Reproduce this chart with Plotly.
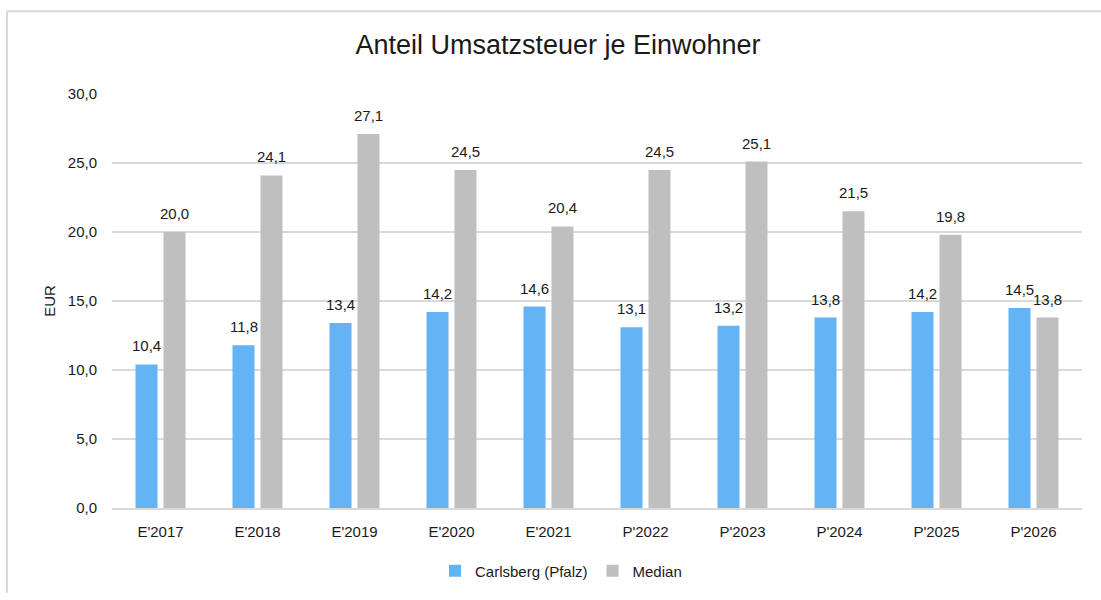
import plotly.graph_objects as go

categories = ["E'2017", "E'2018", "E'2019", "E'2020", "E'2021",
              "P'2022", "P'2023", "P'2024", "P'2025", "P'2026"]
carlsberg = [10.4, 11.8, 13.4, 14.2, 14.6, 13.1, 13.2, 13.8, 14.2, 14.5]
median = [20.0, 24.1, 27.1, 24.5, 20.4, 24.5, 25.1, 21.5, 19.8, 13.8]

FONT = "Liberation Sans, Arial, sans-serif"
TXT = "#1a1a1a"
W, H = 1101, 600
ML, MT = 112, 94
MR = W - 1082
MB = H - 514
pw, ph = W - ML - MR, H - MT - MB


def px_x(x):
    # page pixel -> paper fraction
    return (x - ML) / pw


def px_y(y):
    return (H - MB - y) / ph


fig = go.Figure()
fig.add_trace(go.Bar(
    x=categories, y=carlsberg, name="Carlsberg (Pfalz)",
    marker=dict(color="#63B3F5", line=dict(width=0)),
))
fig.add_trace(go.Bar(
    x=categories, y=median, name="Median",
    marker=dict(color="#BFBFBF", line=dict(width=0)),
))

# data labels sit a little higher above the bars than plotly's own bar text
annotations = []
for values, shift in ((carlsberg, -14), (median, 14)):
    for cat, v in zip(categories, values):
        annotations.append(dict(
            x=cat, y=v, xref="x", yref="y", text=f"{v:.1f}".replace(".", ","),
            showarrow=False, xshift=shift, yshift=8, yanchor="bottom",
            font=dict(size=15, color=TXT, family=FONT),
        ))

fig.update_layout(
    width=W, height=H,
    margin=dict(l=ML, r=MR, t=MT, b=MB),
    paper_bgcolor="white", plot_bgcolor="white",
    separators=",.",
    font=dict(family=FONT, size=15, color=TXT),
    title=dict(text="Anteil Umsatzsteuer je Einwohner", x=px_x(558), xanchor="center",
               xref="paper", y=1 - 45 / H, yanchor="middle",
               font=dict(size=27, color=TXT, family=FONT)),
    barmode="group", bargap=0.423, bargroupgap=0.214,
    legend=dict(orientation="h", x=px_x(561), xanchor="center", xref="paper",
                y=px_y(578), yanchor="middle",
                font=dict(size=15, family=FONT), itemwidth=30,
                traceorder="normal"),
    showlegend=True,
    annotations=annotations,
    shapes=[
        dict(type="line", xref="paper", yref="paper",
             x0=px_x(7), x1=px_x(1101), y0=px_y(10), y1=px_y(10),
             line=dict(color="#D9D9D9", width=2)),
        dict(type="line", xref="paper", yref="paper",
             x0=px_x(7), x1=px_x(7), y0=px_y(10), y1=px_y(600),
             line=dict(color="#D9D9D9", width=2)),
    ],
)
fig.update_xaxes(showgrid=False, showline=True, linecolor="#D9D9D9", linewidth=1.5,
                 ticks="", ticklabelstandoff=9, tickfont=dict(size=15, family=FONT))
fig.update_yaxes(range=[0, 30], dtick=5, tickformat=".1f",
                 showgrid=True, gridcolor="#D9D9D9", gridwidth=1.5,
                 zeroline=False, showline=False, ticks="", ticklabelstandoff=14,
                 title=dict(text="EUR", standoff=8, font=dict(size=15, family=FONT)),
                 tickfont=dict(size=15, family=FONT))

# drop the default body margin so the figure sits at the window's top left corner
fig.write_html("out.html", config={"displayModeBar": False},
               post_script="document.body.style.margin = '0';")
